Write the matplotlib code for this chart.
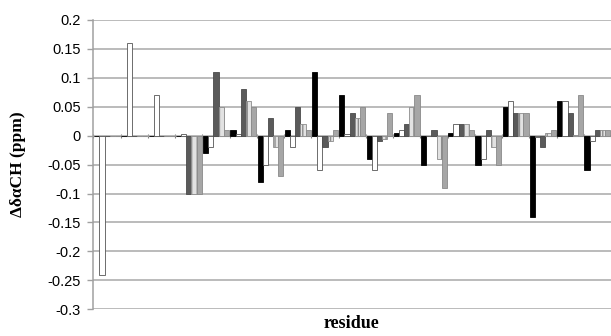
import numpy as np
import matplotlib
matplotlib.use("Agg")
import matplotlib.pyplot as plt


# values per residue (5 series per residue)
black = [0, 0, 0, 0, -0.03, 0.01, -0.08, 0.01, 0.11, 0.07, -0.04, 0.004, -0.05, 0.004, -0.05, 0.05, -0.14, 0.06, -0.06]
white = [-0.24, 0.16, 0.07, 0.003, -0.02, 0.003, -0.05, -0.02, -0.06, 0.003, -0.06, 0.01, 0, 0.02, -0.04, 0.06, -0.003, 0.06, -0.01]
dark = [0, 0, 0, -0.1, 0.11, 0.08, 0.03, 0.05, -0.02, 0.04, -0.01, 0.02, 0.01, 0.02, 0.01, 0.04, -0.02, 0.04, 0.01]
dotted = [0, 0, 0, -0.1, 0.05, 0.06, -0.02, 0.02, -0.01, 0.03, -0.005, 0.05, -0.04, 0.02, -0.02, 0.04, 0.005, 0.002, 0.01]
light = [0, 0, 0, -0.1, 0.01, 0.05, -0.07, 0.01, 0.01, 0.05, 0.04, 0.07, -0.09, 0.01, -0.05, 0.04, 0.01, 0.07, 0.01]

ytick_vals = [-0.3, -0.25, -0.2, -0.15, -0.1, -0.05, 0, 0.05, 0.1, 0.15, 0.2]
ytick_labels = ["-0.3", "-0.25", "-0.2", "-0.15", "-0.1", "-0.05", "0", "0.05", "0.1", "0.15", "0.2"]

series = [black, white, dark, dotted, light]
styles = [
    dict(color="#000000", edgecolor="#000000"),
    dict(color="#ffffff", edgecolor="#555555"),
    dict(color="#5a5a5a", edgecolor="#4a4a4a"),
    dict(color="#e2e2e2", edgecolor="#8c8c8c", hatch="|||"),
    dict(color="#a6a6a6", edgecolor="#8a8a8a"),
]

fig = plt.figure(figsize=(6.11, 3.36), dpi=100)
ax = fig.add_axes([0.153, 0.0795, 0.847, 0.861])

x = np.arange(len(black))
w = 0.19
for j, vals in enumerate(series):
    ax.bar(x + (j - 2) * w, vals, w, linewidth=0.6, zorder=3, **styles[j])

ax.set_ylim(-0.3, 0.2)
ax.set_xlim(-0.5, 18.32)
ax.set_yticks(ytick_vals)
ax.set_yticklabels(ytick_labels, fontfamily="Liberation Sans", fontsize=10.5)
ax.yaxis.grid(True, color="#a8a8a8", linewidth=1.1, zorder=0)

# category axis sits on zero, small marks between residues
ax.spines["bottom"].set_position(("data", 0))
ax.spines["bottom"].set_color("#a0a0a0")
ax.spines["bottom"].set_zorder(2)
ax.set_xticks(np.arange(-0.5, 19, 1))
ax.set_xticklabels([])
ax.tick_params(axis="x", direction="inout", length=3, color="#808080", width=0.8)
ax.tick_params(axis="y", direction="out", length=4, color="#a0a0a0", width=1.0, pad=5)
ax.spines["left"].set_color("#a0a0a0")
ax.spines["left"].set_linewidth(1.1)
ax.spines["top"].set_visible(False)
ax.spines["right"].set_visible(False)

fig.text(0.575, 0.012, "residue", ha="center", va="bottom",
         fontfamily="Liberation Serif", fontweight="bold", fontsize=13)
fig.text(0.03, 0.51, "ΔδαCH (ppm)", ha="center", va="center", rotation=90,
         fontfamily="Liberation Serif", fontweight="bold", fontsize=12.5)

fig.savefig("out.png", dpi=100)
